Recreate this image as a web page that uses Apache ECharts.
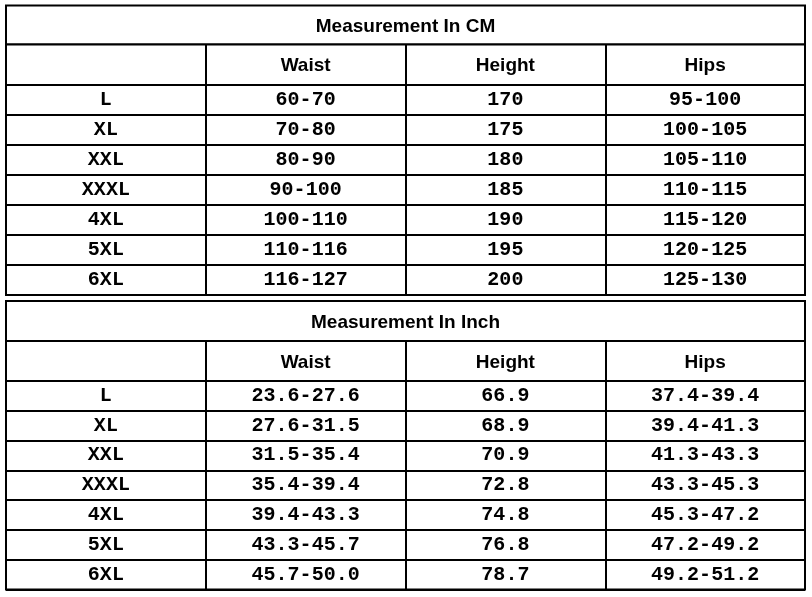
<!DOCTYPE html>
<html>
<head>
<meta charset="utf-8">
<script src="https://cdn.jsdelivr.net/npm/echarts@6/dist/echarts.min.js"></script>
<style>
html,body{margin:0;padding:0;background:#fff;}
#chart{width:812px;height:597px;}
</style>
</head>
<body>
<div id="chart"></div>
<script>
const titles = ['Measurement In CM', 'Measurement In Inch'];
const headers = ['', 'Waist', 'Height', 'Hips'];
const sizes = ['L', 'XL', 'XXL', 'XXXL', '4XL', '5XL', '6XL'];
const cmWaist = ['60-70', '70-80', '80-90', '90-100', '100-110', '110-116', '116-127'];
const cmHeight = ['170', '175', '180', '185', '190', '195', '200'];
const cmHips = ['95-100', '100-105', '105-110', '110-115', '115-120', '120-125', '125-130'];
const inWaist = ['23.6-27.6', '27.6-31.5', '31.5-35.4', '35.4-39.4', '39.4-43.3', '43.3-45.7', '45.7-50.0'];
const inHeight = ['66.9', '68.9', '70.9', '72.8', '74.8', '76.8', '78.7'];
const inHips = ['37.4-39.4', '39.4-41.3', '41.3-43.3', '43.3-45.3', '45.3-47.2', '47.2-49.2', '49.2-51.2'];

const HEAD_FONT = 'bold 19px "Liberation Sans", Arial, sans-serif';
const DATA_FONT = 'bold 20px "Liberation Mono", "Courier New", monospace';

const chart = echarts.init(document.getElementById('chart'), null, {renderer: 'canvas'});

const grids = [], xAxes = [], yAxes = [], series = [];

function textSeries(idx, cells, font, dy) {
  // cells: array of [colIndex, rowIndex, text]
  const texts = cells.map(c => c[2]);
  series.push({
    type: 'custom',
    xAxisIndex: idx,
    yAxisIndex: idx,
    silent: true,
    data: cells.map(c => [c[0], c[1]]),
    renderItem: function (params, api) {
      const p = api.coord([api.value(0), api.value(1)]);
      return {
        type: 'text',
        x: p[0],
        y: p[1] + dy,
        style: {
          text: texts[params.dataIndex],
          font: font,
          fill: '#000',
          align: 'center',
          verticalAlign: 'middle'
        }
      };
    }
  });
}

function addSection(top, height, xCats, yCats, splitX, splitY) {
  const idx = grids.length;
  grids.push({
    left: 6, right: 7, top: top, height: height,
    show: true, borderColor: '#000', borderWidth: 2, backgroundColor: '#fff'
  });
  xAxes.push({
    type: 'category', gridIndex: idx, data: xCats, boundaryGap: true,
    axisLine: {show: false}, axisTick: {show: false}, axisLabel: {show: false},
    splitLine: {show: splitX, interval: 0, lineStyle: {color: '#000', width: 2}}
  });
  yAxes.push({
    type: 'category', gridIndex: idx, data: yCats, boundaryGap: true, inverse: true,
    axisLine: {show: false}, axisTick: {show: false}, axisLabel: {show: false},
    splitLine: {show: splitY, interval: 0, lineStyle: {color: '#000', width: 2}}
  });
  return idx;
}

function addTable(t, top, titleH, headH, dataH, waist, height, hips) {
  // title row
  let i = addSection(top, titleH, [titles[t]], ['title'], false, false);
  textSeries(i, [[0, 0, titles[t]]], HEAD_FONT, 1.5);
  // header row
  i = addSection(top + titleH, headH, headers, ['head'], true, false);
  textSeries(i, headers.map((h, c) => [c, 0, h]), HEAD_FONT, 1.5);
  // data rows
  i = addSection(top + titleH + headH, dataH, headers, sizes, true, true);
  const cells = [];
  sizes.forEach((s, r) => {
    cells.push([0, r, s]);
    cells.push([1, r, waist[r]]);
    cells.push([2, r, height[r]]);
    cells.push([3, r, hips[r]]);
  });
  textSeries(i, cells, DATA_FONT, 0);
}

addTable(0, 5.5, 39, 40.5, 210, cmWaist, cmHeight, cmHips);
addTable(1, 301, 40, 40, 208.5, inWaist, inHeight, inHips);

chart.setOption({
  backgroundColor: '#fff',
  animation: false,
  grid: grids,
  xAxis: xAxes,
  yAxis: yAxes,
  series: series
});
</script>
</body>
</html>
